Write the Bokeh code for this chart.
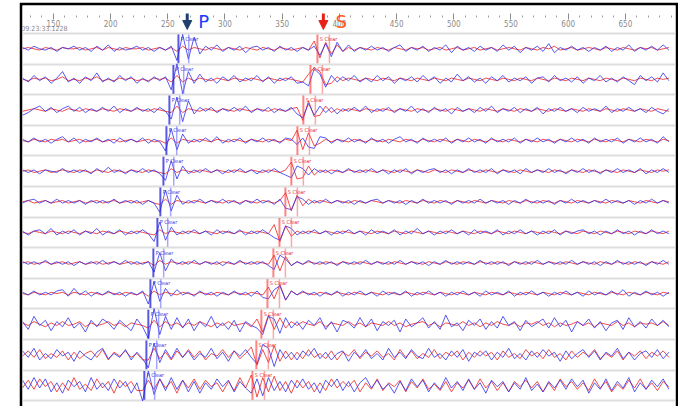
from bokeh.plotting import figure
from bokeh.models import Range1d, LinearAxis, FixedTicker, Grid, Label, Arrow, NormalHead, ColumnDataSource, Spacer
from bokeh.layouts import row, column
from bokeh.core.properties import value
from bokeh.embed import file_html
from bokeh.resources import INLINE
import numpy as np

# ---------------- data ----------------
T0 = 123.0          # time of first sample (axis units)
DT = 5.0            # sample interval
GAIN = 1.3 / 30.6   # display gain: trace counts -> row units

major_ticks = [150, 200, 250, 300, 350, 400, 450, 500, 550, 600, 650]
minor_ticks = [130, 140, 160, 170, 180, 190, 210, 220, 230, 240, 260, 270, 280, 290,
               310, 320, 330, 340, 360, 370, 380, 390, 410, 420, 430, 440, 460, 470,
               480, 490, 510, 520, 530, 540, 560, 570, 580, 590, 610, 620, 630, 640,
               660, 670, 680, 690]
start_time = "09:23:33.1228"

p_picks = [259.3, 254.9, 251.4, 248.8, 246.2, 243.5, 240.9, 237.4, 234.8, 233.0, 231.3, 229.5]
s_picks = [380.8, 374.7, 368.5, 363.3, 358.0, 352.8, 347.6, 342.3, 337.1, 331.8, 327.4, 324.0]
p_label = "P Clear"
s_label = "S Clear"
p_arrow_t = 267.0
s_arrow_t = 386.0

B1 = [1,-1,2,0,-1,1,-2,1,0,2, -1,1,-2,2,-1,3,-2,1,-1,0, 2,-1,1,-2,1,-1,2,-9,11,-8,
      9,-4,2,-1,3,-2,1,-1,2,-3, 1,2,-1,1,-2,2,-1,1,-2,1, -1,2,-5,4,-6,5,-2,3,-2,1,
      -1,2,-1,1,-2,1,3,-2,1,-1, 2,-2,1,-1,3,-3,2,-1,1,-2, 2,-1,1,-2,3,-1,2,-3,1,-1,
      2,-2,4,-3,1,-1,2,-1,1,-2, 1,-1,2,-2,1,-1,3,-2,1,-1, 2,-1,3,-1]
R1 = [0,1,0,-1,1,0,-1,1,0,0, 1,-1,0,1,-1,1,0,-1,1,0, 0,1,-1,0,1,-1,1,-2,2,-1,
      1,0,-1,1,0,-1,1,0,-1,1, 0,-1,1,0,-1,1,0,-1,0,1, -1,6,-7,5,-4,3,-2,1,-1,1,
      0,-1,1,0,-1,1,0,-1,1,0, 1,-1,0,1,-1,0,1,-1,0,1, -1,0,1,-1,0,1,0,-1,1,0,
      -1,1,0,2,-1,0,1,-1,0,1, 0,-1,1,0,-1,1,0,-1,1,0, 1,-1,0,1]
B2 = [1,-2,3,-1,2,-3,1,6,-2,1, -3,2,-1,5,-2,1,-2,3,-1,2, -3,1,-2,2,-1,2,-8,12,-11,6,
      -3,4,-2,1,-3,2,-1,3,-2,1, -1,3,-2,2,-3,1,-1,2,-3,-2, -5,8,4,-6,3,-2,2,-1,3,-2,
      1,-2,3,-1,2,-3,1,-1,2,-2, 3,-1,2,-3,1,-2,4,-1,2,-2, 1,-3,2,-1,3,-2,1,-1,2,-3,
      1,2,-2,3,-1,1,-2,2,-3,1, -1,3,-2,1,-2,2,-1,-4,3,-1, 2,-2,5,-1]
R2 = [0,-1,1,0,1,-1,0,2,-1,0, -1,1,0,2,-1,0,-1,1,0,1, -1,0,-1,1,0,1,-2,3,-2,1,
      -1,1,0,-1,1,0,-1,1,0,-1, 1,0,-1,1,0,-1,1,0,-1,-2, 4,9,6,-4,-3,2,-1,1,0,-1,
      1,0,-1,1,0,-1,1,0,-1,1, 0,-1,1,0,-1,1,0,-1,1,0, -1,1,0,-1,1,0,-1,1,0,-1,
      1,0,-1,1,0,-1,1,0,-1,1, 0,-1,1,0,-1,1,0,-1,1,0, -1,1,0,1]
B3 = [-4,-2,1,3,-1,2,-2,1,3,-1, 2,-2,1,-1,2,-1,3,-2,1,-1, 2,-1,1,-2,2,-1,-7,10,-9,7,
      -3,2,-1,2,-2,1,-1,2,-1,3, -2,1,-1,2,-2,1,-1,2,-3,-6, 5,-4,3,-2,2,-3,1,-1,2,-1,
      3,-2,1,-1,2,-2,1,-1,3,-2, 1,-2,2,-1,1,-3,2,-1,1,-2, 2,-1,3,-2,1,-1,2,-2,1,-1,
      2,-3,1,-1,2,-1,1,-2,2,-1, 1,-1,3,-2,1,-1,2,-1,1,-2, 2,-1,-3,1]
R3 = [-1,0,1,0,-1,1,0,-1,1,0, -1,1,0,-1,1,0,-1,1,0,-1, 1,0,-1,1,0,-1,-2,3,-2,1,
      0,-1,1,0,-1,1,0,-1,1,0, -1,1,0,-1,1,0,-1,1,2,-8, 7,-5,-4,3,-2,1,-1,1,0,-1,
      1,0,-1,1,0,-1,1,0,-1,1, 0,-1,1,0,-1,1,0,-1,1,0, -1,1,0,-1,1,0,-1,1,0,-1,
      1,0,-1,1,0,-1,1,0,-1,1, 0,-1,1,0,-1,1,0,-1,1,0, -1,1,0,-1]
B4 = [1,-1,2,-1,1,-2,1,3,-1,2, -2,1,-1,2,-1,1,-2,2,-1,1, -1,2,-2,1,-1,-8,9,-7,5,-2,
      1,-1,2,-1,3,-2,1,-1,2,-2, 1,-1,2,-1,1,-2,2,1,-3,2, -5,-6,3,2,-2,1,-1,2,-1,1,
      -2,2,-1,1,-2,1,3,-1,1,-2, 2,-1,1,-1,2,-2,1,-1,2,-1, 1,-2,2,-1,1,-1,2,-2,1,-1,
      2,-1,1,-2,1,-1,2,-1,1,-2, 2,-1,1,-1,2,-2,1,-1,2,-1, 1,-2,3,-1]
R4 = [0,-1,1,0,-1,1,0,1,-1,0, 1,-1,0,1,-1,0,1,-1,0,1, -1,0,1,-1,0,-2,2,-2,1,0,
      -1,1,0,-1,1,0,-1,1,0,-1, 1,0,-1,1,0,-1,1,0,8,-7, 6,-4,-2,1,-1,1,0,-1,1,0,
      -1,1,0,-1,1,0,-1,1,0,-1, 1,0,-1,1,0,-1,1,0,-1,1, 0,-1,1,0,-1,1,0,-1,1,0,
      -1,1,0,-1,1,0,-1,1,0,-1, 1,0,-1,1,0,-1,1,0,-1,1, 0,-1,1,0]
B5 = [1,-1,1,-2,1,0,-1,2,-1,1, -1,1,-2,2,-1,3,-1,1,-2,1, -1,2,-1,1,-2,-7,8,-6,4,-2,
      1,-1,2,-1,1,-2,1,-1,2,-1, 1,-2,1,-1,2,-1,-3,-5,4,2, -3,2,-1,1,-2,1,-1,2,-1,1,
      -1,2,-1,1,-2,1,-1,2,-2,1, -1,1,2,-1,1,-2,1,-1,2,-1, 1,-1,2,-2,1,-1,1,-2,2,-1,
      1,-1,2,-1,1,-2,1,-1,2,-1, 1,-2,1,-1,2,-1,1,-1,2,-2, 1,-1,2,-1]
R5 = [0,1,-1,0,1,-1,0,1,0,-1, 1,0,-1,1,0,-1,1,0,-1,1, 0,-1,1,0,-1,-2,2,-1,1,0,
      -1,1,0,-1,1,0,-1,1,0,-1, 1,0,-1,1,0,-1,1,7,-6,-5, 4,-3,1,-1,1,0,-1,1,0,-1,
      1,0,-1,1,0,-1,1,0,-1,1, 0,-1,1,0,-1,1,0,-1,1,0, -1,1,0,-1,1,0,-1,1,0,-1,
      1,0,-1,1,0,-1,1,0,-1,1, 0,-1,1,0,-1,1,0,-1,1,0, -1,1,0,1]
B6 = [-1,1,2,-1,1,-1,2,-1,1,-1, 1,-2,1,-1,1,-1,2,-1,1,-1, 1,-2,1,-1,-8,9,-7,5,-2,1,
      -1,2,-1,1,-1,2,-1,1,-2,1, -1,2,-1,1,-2,2,-5,-6,4,2, -2,1,-1,2,-1,1,-1,1,-2,1,
      -1,1,2,-1,1,-1,1,-2,1,-1, 2,-1,1,-1,1,-2,1,-1,1,-1, 2,-1,1,-1,1,-2,1,-1,2,-1,
      1,-1,1,-2,1,-1,2,-1,1,-1, 1,-1,2,-1,1,-1,1,-2,1,-1, 2,-1,1,-1]
R6 = [0,1,-1,0,1,-1,0,1,-1,0, 1,-1,0,1,-1,0,1,-1,0,1, -1,0,1,-1,-2,2,-2,1,0,-1,
      1,0,-1,1,0,-1,1,0,-1,1, 0,-1,1,0,-1,1,7,-7,5,-3, 2,-1,1,0,-1,1,0,-1,1,0,
      -1,1,0,-1,1,0,-1,1,0,-1, 1,0,-1,1,0,-1,1,0,-1,1, 0,-1,1,0,-1,1,0,-1,1,0,
      -1,1,0,-1,1,0,-1,1,0,-1, 1,0,-1,1,0,-1,1,0,-1,1, 0,-1,1,0]
B7 = [1,-2,1,2,-1,3,-2,1,-1,2, -2,1,-1,3,-2,1,-1,2,-2,1, -1,2,-1,-7,8,-6,4,-2,1,-1,
      2,-1,1,-2,2,-1,1,-1,2,-2, 1,-1,2,-1,-4,-6,5,3,-2,1, -1,2,-1,1,-2,1,-1,2,-1,1,
      -2,2,-1,1,-1,2,-2,1,-1,3, -1,1,-2,1,-1,2,-1,1,-2,2, -1,1,-1,2,-2,1,-1,2,-1,1,
      -2,1,-1,2,-2,1,-1,1,2,-1, 1,-2,1,-1,2,-1,1,-2,1,-1, 2,-1,1,-1]
R7 = [0,-1,1,0,-1,1,0,-1,1,0, -1,1,0,-1,1,0,-1,1,0,-1, 1,0,-1,-2,2,-1,1,0,-1,1,
      0,-1,1,0,-1,1,0,-1,1,0, -1,1,0,-1,6,-7,5,-3,1,-1, 1,0,-1,1,0,-1,1,0,-1,1,
      0,-1,1,0,-1,1,0,-1,1,0, -1,1,0,-1,1,0,-1,1,0,-1, 1,0,-1,1,0,-1,1,0,-1,1,
      0,-1,1,0,-1,1,0,-1,1,0, -1,1,0,-1,1,0,-1,1,0,-1, 1,0,-1,1]
B8 = [1,-1,1,-1,2,-1,1,-1,1,-2, 1,-1,1,-1,2,-1,1,-1,2,-1, 1,-1,1,-7,8,-6,3,-1,1,-1,
      2,-1,1,-1,1,-2,1,-1,2,-1, 1,-1,1,-2,-5,6,3,-2,1,-1, 2,-1,1,-1,1,-2,1,-1,1,-1,
      2,-1,1,-1,1,-1,2,-1,1,-1, 1,-2,1,-1,2,-1,1,-1,1,-1, 2,-1,1,-1,1,-2,1,-1,1,-1,
      2,-1,1,-1,1,-1,2,-1,1,-1, 1,-2,1,-1,2,-1,1,-1,1,-2, 1,-1,2,-1]
R8 = [0,1,-1,0,1,-1,0,1,-1,0, 1,-1,0,1,-1,0,1,-1,0,1, -1,0,1,-2,2,-1,1,0,-1,1,
      0,-1,1,0,-1,1,0,-1,1,0, -1,1,0,-1,6,-6,5,-2,1,-1, 1,0,-1,1,0,-1,1,0,-1,1,
      0,-1,1,0,-1,1,0,-1,1,0, -1,1,0,-1,1,0,-1,1,0,-1, 1,0,-1,1,0,-1,1,0,-1,1,
      0,-1,1,0,-1,1,0,-1,1,0, -1,1,0,-1,1,0,-1,1,0,-1, 1,0,-1,1]
B9 = [1,-1,2,-1,1,-1,2,3,-2,4, -1,2,-2,1,-1,2,-1,1,-2,1, -1,2,-8,9,-6,4,-2,3,-1,1,
      -2,2,-1,1,-2,1,-1,2,-1,1, -2,2,-3,-4,3,6,-5,2,-1,2, -1,1,-2,1,-1,2,-2,1,-1,2,
      -1,1,-2,2,-1,1,-1,2,-2,1, -1,2,-1,1,-2,1,-1,2,-1,1, -2,2,-1,1,-1,2,-2,1,-1,2,
      -1,1,-2,1,-1,2,-1,1,-2,2, -1,1,-1,2,-1,3,-2,1,-1,2, -1,1,-2,1]
R9 = [0,-1,1,0,-1,1,0,1,-1,1, 0,-1,1,0,-1,1,0,-1,1,0, -1,1,-2,2,-1,1,0,-1,1,0,
      -1,1,0,-1,1,0,-1,1,0,-1, 1,0,-1,5,-4,7,-5,2,-1,1, 0,-1,1,0,-1,1,0,-1,1,0,
      -1,1,0,-1,1,0,-1,1,0,-1, 1,0,-1,1,0,-1,1,0,-1,1, 0,-1,1,0,-1,1,0,-1,1,0,
      -1,1,0,-1,1,0,-1,1,0,-1, 1,0,-1,1,0,-1,1,0,-1,1, 0,-1,1,0]
B10 = [2,-4,6,-1,3,-5,2,-2,5,-3, 1,-6,3,-2,4,1,-4,3,-1,-5, 4,-2,-11,12,-8,6,-4,5,-3,4,
       -5,2,-2,6,-3,1,-4,3,-6,2, -1,-3,-8,6,4,-7,5,-3,2,-4, 3,-1,5,-4,2,-6,3,1,-3,5,
       -2,4,-5,2,-1,3,-6,4,-2,1, 5,-3,2,-4,7,-2,1,-5,3,-1, 4,-4,2,-3,6,-1,2,-5,3,-2,
       1,4,-3,5,-2,3,-6,2,-1,4, -3,2,-5,1,3,-4,5,-2,2,-3, 4,-1,3,-2]
R10 = [1,-1,2,0,-2,1,-1,2,-1,0, 2,-2,1,-1,0,2,-1,1,-2,1, 0,-1,-3,3,-2,2,-1,1,-2,1,
       -1,2,0,-2,1,-1,2,-1,0,1, -2,4,-6,7,-4,5,-3,2,-1,2, 0,-1,2,-2,1,0,-1,2,-1,1,
       -2,1,0,-1,2,-1,1,-2,0,1, 2,-1,1,-2,1,0,-1,2,-1,1, -2,1,-1,2,0,-1,1,-2,1,0,
       2,-1,1,-2,1,-1,0,2,-1,1, -2,1,0,-1,2,-1,1,-2,1,0, 1,-1,2,-1]
B11 = [3,-2,5,-4,1,-3,4,-1,2,-5, 3,-1,-4,2,5,-3,1,-2,4,-4, 2,-3,-10,9,-6,4,-3,5,-2,3,
       -4,1,-2,5,-3,2,-5,3,-1,4, -2,-7,8,5,-9,4,-3,2,-4,3, -1,5,-3,2,-4,1,3,-5,2,-2,
       4,-3,1,-4,5,-2,2,-3,4,-1, -3,5,-2,1,-4,3,-2,4,-5,2, -1,3,-4,2,-2,5,-3,1,-4,3,
       -2,4,-1,2,-5,3,-3,1,4,-2, 3,-4,2,-1,5,-3,2,-4,1,3, -2,4,-3,2]
R11 = [-1,3,-2,4,-3,1,-2,3,-4,2, -3,1,3,-2,4,-4,2,-1,3,-2, 1,-4,-4,5,-3,2,-4,3,-2,4,
       -2,3,-4,1,-1,4,-2,3,-3,1, 6,-8,4,-6,7,-5,3,-4,2,-3, 4,-2,1,-3,3,-4,2,-1,4,-3,
       2,-1,3,-2,1,-4,4,-2,3,-3, 1,-2,4,-3,2,-1,3,-4,2,-2, 3,-1,2,-4,3,-2,1,-3,4,-1,
       2,-3,4,-2,1,-4,3,-2,2,-1, 4,-3,1,-2,3,-4,2,-1,3,-3, 2,-1,3,-2]
B12 = [4,-3,6,-2,5,-5,2,-6,4,-1, 3,-5,6,-3,2,-4,5,-2,3,-6, 2,-12,11,-7,5,-4,6,-3,4,-5,
       3,-6,2,-3,5,-1,4,-5,3,-2, -6,5,-8,6,-4,3,-5,4,-2,5, -3,2,-6,4,-1,5,-4,3,-5,2,
       6,-2,4,-3,1,-6,3,-4,5,-1, 4,-5,2,-3,6,-2,3,-4,5,-3, 2,-6,4,-1,3,-5,2,-3,6,-4,
       1,-5,3,-2,4,-3,5,-1,4,-6, 2,-3,5,-4,3,-2,6,-5,2,-3, 4,-1,5,-3]
R12 = [-2,4,-3,5,-1,3,-5,2,-4,6, -3,1,-4,5,-2,3,-6,4,-1,3, -4,-4,4,-3,5,-2,3,-6,4,-2,
       5,-3,4,-1,2,-5,3,-4,6,-2, 8,-9,6,-5,7,-4,3,-6,4,-2, 3,-5,2,-4,5,-2,3,-1,4,-5,
       2,-3,5,-4,2,-1,4,-5,3,-2, 5,-3,1,-4,3,-5,2,-2,4,-3, 5,-2,3,-4,2,-5,3,-1,4,-2,
       3,-5,2,-4,5,-1,3,-3,2,-4, 5,-2,3,-5,1,-3,4,-2,5,-3, 2,-4,3,-1]

blue_traces = [B1, B2, B3, B4, B5, B6, B7, B8, B9, B10, B11, B12]
red_traces = [R1, R2, R3, R4, R5, R6, R7, R8, R9, R10, R11, R12]

# ---------------- figure ----------------
n_rows = len(blue_traces)
NARROW = "'Liberation Sans Narrow', 'DejaVu Sans Condensed', sans-serif"

p = figure(width=659, height=404,
           x_range=Range1d(123, 693.8), y_range=Range1d(-11.69, 1.415),
           output_backend="svg", toolbar_location=None,
           x_axis_location=None, y_axis_location=None,
           min_border_left=3, min_border_right=3, min_border_bottom=0, min_border_top=3)
p.outline_line_color = None
p.grid.visible = False
p.background_fill_color = "white"
p.border_fill_color = "black"     # thin black frame around the display

# row separators
sep = Grid(dimension=1, ticker=FixedTicker(ticks=[0.5 - k for k in range(n_rows + 1)]),
           grid_line_color="#dedede", grid_line_width=2)
p.add_layout(sep)

# time axis along the top edge, drawn inward: ticks first, then the numbers
ax = LinearAxis(ticker=FixedTicker(ticks=major_ticks, minor_ticks=minor_ticks),
                axis_line_color=None,
                major_tick_line_color="#8a8a8a", major_tick_in=14, major_tick_out=-8,
                minor_tick_line_color="#9a9a9a", minor_tick_in=12, minor_tick_out=-10,
                major_label_standoff=-13,
                major_label_text_font_size="8px", major_label_text_color="#8a8a8a",
                major_label_text_font=NARROW)
p.add_layout(ax, "above")

p.add_layout(Label(x=150, y=0.663, x_offset=-9, text=start_time, text_align="center",
                   text_baseline="middle", text_font_size="7px", text_color="#8a8a8a",
                   text_font=NARROW))

# traces
for i in range(n_rows):
    r = np.array(red_traces[i], dtype=float)
    b = np.array(blue_traces[i], dtype=float)
    p.line(T0 + DT * np.arange(len(r)), -i + GAIN * r, line_color="#ee2d2d", line_width=1, line_alpha=0.85)
    p.line(T0 + DT * np.arange(len(b)), -i + GAIN * b, line_color="#3030ee", line_width=1, line_alpha=0.8)

# pick lines and labels
rows = np.arange(n_rows)
pk = np.array(p_picks)
sk = np.array(s_picks)
pick_src = ColumnDataSource(dict(p1=pk, p2=pk + 9, s1=sk, s2=sk + 10.5,
                                 top=-rows + 0.47, bot=-rows - 0.47, ly=-rows + 0.33,
                                 plx=pk + 2, slx=sk + 2,
                                 pl=[p_label] * n_rows, sl=[s_label] * n_rows))
p.segment(x0="p1", x1="p1", y0="top", y1="bot", source=pick_src, line_color="#2020d8", line_width=2, line_alpha=0.75)
p.segment(x0="p2", x1="p2", y0="top", y1="bot", source=pick_src, line_color="#6a6aff", line_width=1.5, line_alpha=0.6)
p.segment(x0="s1", x1="s1", y0="top", y1="bot", source=pick_src, line_color="#ff3030", line_width=2, line_alpha=0.6)
p.segment(x0="s2", x1="s2", y0="top", y1="bot", source=pick_src, line_color="#ff5050", line_width=1.5, line_alpha=0.5)
p.text(x="plx", y="ly", text="pl", source=pick_src, text_color="#3a3ae0", text_font_size="5.5px",
       text_baseline="middle", text_font=value("DejaVu Sans Condensed"))
p.text(x="slx", y="ly", text="sl", source=pick_src, text_color="#e83030", text_font_size="5.5px",
       text_baseline="middle", text_font=value("DejaVu Sans Condensed"))

# phase arrows above the traces
p.add_layout(Arrow(x_start=p_arrow_t, y_start=1.154, x_end=p_arrow_t, y_end=0.631,
                   line_color="#1f3f6e", line_width=3,
                   end=NormalHead(size=9, fill_color="#1f3f6e", line_color="#1f3f6e")))
p.add_layout(Arrow(x_start=s_arrow_t, y_start=1.154, x_end=s_arrow_t, y_end=0.631,
                   line_color="#e8201a", line_width=3,
                   end=NormalHead(size=9, fill_color="#e8201a", line_color="#e8201a")))
p.add_layout(Label(x=276.7, y=0.876, text="P", text_align="left", text_baseline="middle",
                   text_font_size="18px", text_color="#1a3cff", text_font="DejaVu Sans"))
p.add_layout(Label(x=396.5, y=0.876, text="S", text_align="left", text_baseline="middle",
                   text_font_size="18px", text_color="#ff5a22", text_font="DejaVu Sans"))

layout = column(Spacer(width=10, height=2), row(Spacer(width=19, height=404), p))
open("out.html", "w").write(file_html(layout, INLINE))
